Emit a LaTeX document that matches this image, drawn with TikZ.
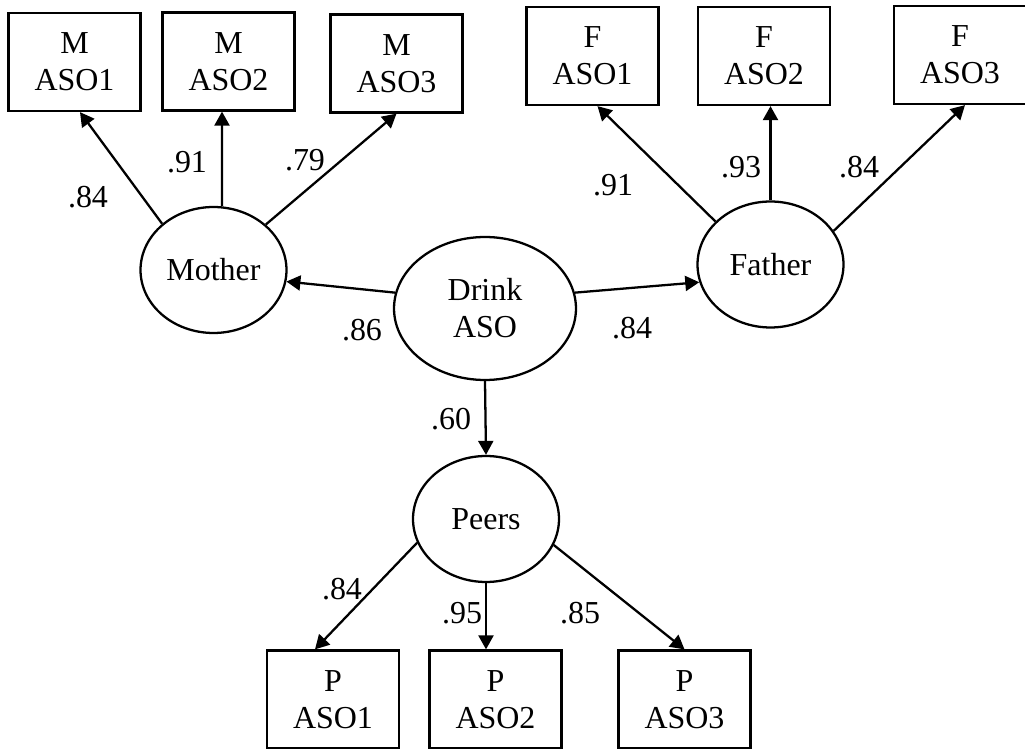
\documentclass[tikz,border=0pt]{standalone}
\usepackage{fontspec}
\setmainfont{Liberation Serif}
\usetikzlibrary{arrows.meta,shapes.geometric}

\tikzset{
  obs/.style={draw,rectangle,minimum width=2.64cm,minimum height=1.96cm,inner sep=0pt,align=center},
  lat/.style={draw,ellipse,minimum width=2.92cm,minimum height=2.52cm,inner sep=0pt,align=center},
  coef/.style={inner sep=0pt}
}

\begin{document}
\begin{tikzpicture}[x=0.02cm,y=-0.02cm,line width=1.3pt,>={Triangle[length=0.28cm,width=0.3cm]},
  font=\fontsize{18.2}{21}\selectfont]
  \useasboundingbox (0,0) rectangle (1025,749);
  % latent factors
  \node[lat] (mother) at (213.5,270) {Mother};
  \node[lat,minimum width=3.64cm,minimum height=2.86cm] (drink) at (485,308.5) {Drink\\ASO};
  \node[lat] (father) at (770.5,264.5) {Father};
  \node[lat] (peers) at (486,519) {Peers};
  % indicators
  \node[obs] (m1) at (74.5,62) {M\\ASO1};
  \node[obs] (m2) at (228.5,61.5) {M\\ASO2};
  \node[obs] (m3) at (396.5,63.5) {M\\ASO3};
  \node[obs] (f1) at (592.5,56) {F\\ASO1};
  \node[obs] (f2) at (764,56) {F\\ASO2};
  \node[obs] (f3) at (960,55) {F\\ASO3};
  \node[obs] (p1) at (333,699.5) {P\\ASO1};
  \node[obs] (p2) at (495.5,699.5) {P\\ASO2};
  \node[obs] (p3) at (684.5,699.5) {P\\ASO3};
  % paths
  \draw[->] (mother.138) -- ([xshift=0.11cm]m1.south);
  \draw[->] ([xshift=0.17cm]mother.north) -- ([xshift=-0.13cm]m2.south);
  \draw[->] (mother.41) -- (m3.south);
  \draw[->] (drink.170) -- (mother.-9);
  \draw[->] (drink.10) -- (father.194);
  \draw[->] (drink.south) -- (peers.north);
  \draw[->] (father.142) -- ([xshift=0.1cm]f1.south);
  \draw[->] (father.north) -- (father.north |- f2.south);
  \draw[->] (father.28) -- ([xshift=0.1cm]f3.south);
  \draw[->] (peers.199) -- ([xshift=-0.36cm]p1.north);
  \draw[->] (peers.south) -- (peers.south |- p2.north);
  \draw[->] (peers.-21) -- (p3.north);
  % loadings
  \node[coef] (lm1) at (88,197) {.84};
  \node[coef] (lm2) at (187,162) {.91};
  \node[coef] (lm3) at (305,160) {.79};
  \node[coef] (ldm) at (362,330) {.86};
  \node[coef] (ldf) at (632,328) {.84};
  \node[coef] (ldp) at (451,419) {.60};
  \node[coef] (lf1) at (613,185) {.91};
  \node[coef] (lf2) at (741,167) {.93};
  \node[coef] (lf3) at (859,167) {.84};
  \node[coef] (lp1) at (342,589) {.84};
  \node[coef] (lp2) at (462,613) {.95};
  \node[coef] (lp3) at (580,613) {.85};
\end{tikzpicture}
\end{document}
